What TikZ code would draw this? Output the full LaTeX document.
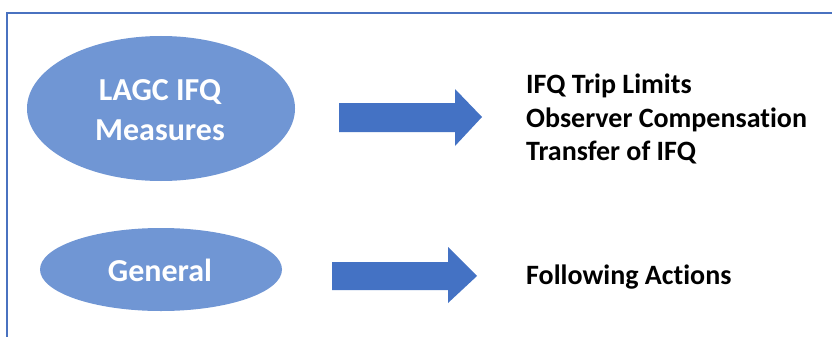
\documentclass[tikz,border=0pt]{standalone}
\usepackage{fontspec}
\setmainfont[Ligatures=NoCommon]{Carlito}
\usetikzlibrary{shapes.geometric}
\definecolor{ellfill}{HTML}{7096D4}
\definecolor{arrfill}{HTML}{4472C4}
\definecolor{framec}{HTML}{4A72C0}
\tikzset{
  oval/.style={ellipse, fill=ellfill, draw=none, inner sep=0pt},
  ovaltext/.style={anchor=base, text=white, font=\bfseries\fontsize{32}{39}\selectfont, inner sep=0pt},
  rtext/.style={anchor=base west, font=\bfseries\fontsize{28}{34}\selectfont, inner sep=0pt},
  bigarrow/.style={fill=arrfill, draw=none},
}
\begin{document}
\begin{tikzpicture}[x=1pt,y=-1pt]
\useasboundingbox (0,0) rectangle (832,337);
\fill[white] (0,0) rectangle (832,337);
\draw[framec, line width=1.2pt] (832,13) -- (7,13) -- (7,337);
\node[oval, minimum width=268pt, minimum height=145pt] (e1) at (161,108.5) {};
\node[ovaltext] (t1a) at (160,100.7) {LAGC IFQ};
\node[ovaltext] (t1b) at (160,140) {Measures};
\node[oval, minimum width=242pt, minimum height=83pt] (e2) at (161,269.5) {};
\node[ovaltext] (t2) at (160,281) {General};
\fill[bigarrow] (339,103) -- (455,103) -- (455,89) -- (482,117) -- (455,146) -- (455,132) -- (339,132) -- cycle;
\fill[bigarrow] (332,262) -- (448,262) -- (448,247) -- (477,276) -- (448,303) -- (448,290) -- (332,290) -- cycle;
\node[rtext] (r1) at (526,93) {IFQ Trip Limits};
\node[rtext] (r2) at (526,127) {Observer Compensation};
\node[rtext] (r3) at (526,160) {Transfer of IFQ};
\node[rtext] (r4) at (526,284) {Following Actions};
\end{tikzpicture}
\end{document}
